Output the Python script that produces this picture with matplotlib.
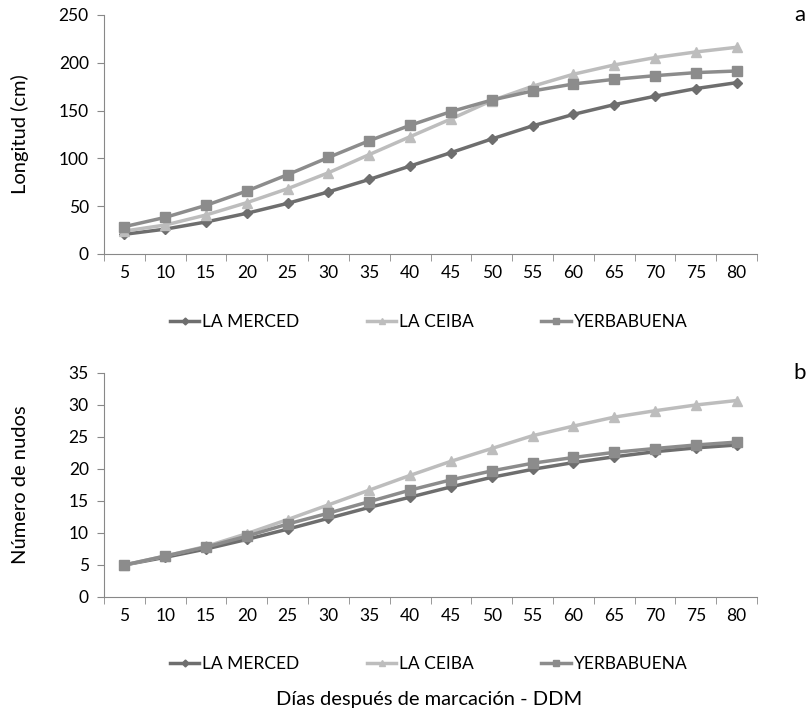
import numpy as np
import matplotlib
matplotlib.use('Agg')
import matplotlib.pyplot as plt

plt.rcParams['font.family'] = ['Lato', 'DejaVu Sans']

# days after marking
dias = ['5', '10', '15', '20', '25', '30', '35', '40', '45', '50',
        '55', '60', '65', '70', '75', '80']

# a) length (cm)
long_merced = [20.6, 26, 33.5, 42.6, 53, 65, 78, 92, 106, 120.3,
               134, 146, 156.2, 165, 173, 179.2]
long_ceiba = [24, 30.3, 40.8, 53.7, 68.3, 85, 104, 122.7, 141.2, 160.4,
              175.4, 188, 197.7, 205.4, 211.3, 216.2]
long_yerba = [28.6, 38.3, 50.9, 65.9, 83, 101, 118.5, 134.6, 148.9, 161,
              170.5, 177.8, 182.7, 186.5, 189.7, 191.4]

# b) number of nodes
nud_merced = [5.0, 6.2, 7.5, 9.0, 10.6, 12.3, 14.0, 15.6, 17.2, 18.7,
              19.95, 21.0, 21.9, 22.7, 23.3, 23.75]
nud_ceiba = [5.0, 6.4, 7.9, 9.9, 12.1, 14.4, 16.7, 19.0, 21.2, 23.2,
             25.2, 26.7, 28.1, 29.1, 30.0, 30.7]
nud_yerba = [5.0, 6.4, 7.8, 9.5, 11.4, 13.1, 14.9, 16.7, 18.3, 19.7,
             20.9, 21.8, 22.6, 23.2, 23.75, 24.2]

names = ['LA MERCED', 'LA CEIBA', 'YERBABUENA']
colors = ['#6e6e6e', '#bdbdbd', '#8c8c8c']
markers = ['D', '^', 's']
msizes = [5, 7, 7]

fig = plt.figure(figsize=(8.1, 7.23), dpi=100)
ax1 = fig.add_axes([0.1284, 0.6487, 0.8062, 0.3306])
ax2 = fig.add_axes([0.1284, 0.1743, 0.8062, 0.3098])

x = np.arange(len(dias))
axis_col = '#888888'


def draw(ax, series, ymax, ystep, ylabel, letter, leg_y):
    for s, n, c, m, ms in zip(series, names, colors, markers, msizes):
        ax.plot(x, s, color=c, marker=m, markersize=ms, linewidth=2.5,
                label=n, markeredgecolor=c)
    ax.set_xlim(-0.5, len(dias) - 0.5)
    ax.set_ylim(0, ymax)
    ax.set_yticks(np.arange(0, ymax + 0.1, ystep))
    ax.set_xticks(x)
    ax.set_xticklabels(dias)
    ax.set_xticks(np.arange(-0.5, len(dias), 1), minor=True)
    ax.tick_params(axis='x', which='major', length=0, pad=8, labelsize=12.5)
    ax.tick_params(axis='x', which='minor', length=5, color=axis_col)
    ax.tick_params(axis='y', length=5, color=axis_col, labelsize=12.5, pad=6)
    for sp in ['top', 'right']:
        ax.spines[sp].set_visible(False)
    for sp in ['left', 'bottom']:
        ax.spines[sp].set_color(axis_col)
    ax.set_ylabel(ylabel, fontsize=14.5)
    ax.yaxis.set_label_coords(-0.115, 0.5)
    ax.text(1.065, 1.0, letter, transform=ax.transAxes, fontsize=16,
            ha='center', va='center')
    ax.legend(loc='center', bbox_to_anchor=(0.497, leg_y), ncol=3,
              frameon=False, fontsize=12.5, handlelength=1.7,
              handletextpad=0.15, columnspacing=3.9, markerscale=0.7)


draw(ax1, [long_merced, long_ceiba, long_yerba], 250, 50,
     'Longitud (cm)', 'a', -0.285)
draw(ax2, [nud_merced, nud_ceiba, nud_yerba], 35, 5,
     'Número de nudos', 'b', -0.30)

fig.text(0.53, 0.032, 'Días después de marcación - DDM', fontsize=14.5,
         ha='center', va='center')

fig.savefig('out.png', dpi=100)
